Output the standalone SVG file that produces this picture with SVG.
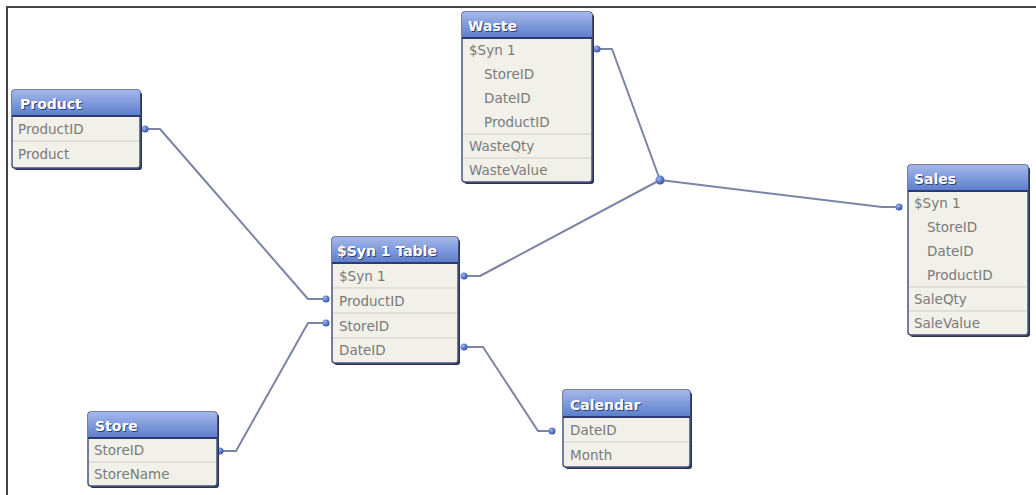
<svg xmlns="http://www.w3.org/2000/svg" width="1036" height="495" viewBox="0 0 1036 495">
<defs>
<linearGradient id="hdr" x1="0" y1="0" x2="0" y2="1">
<stop offset="0" stop-color="#a4b8ea"/>
<stop offset="1" stop-color="#5b7dcc"/>
</linearGradient>
<radialGradient id="dotg" cx="0.35" cy="0.35" r="0.7">
<stop offset="0" stop-color="#9fb4ef"/>
<stop offset="1" stop-color="#2f4fa8"/>
</radialGradient>
</defs>
<style>
.shadow{fill:#2b3150;}
.frame{fill:#f1f0e9;stroke:#4a5580;stroke-width:1.5;}
.head{fill:url(#hdr);}
.hline{stroke:#2d3a72;stroke-width:2;}
.sep{stroke:#cfcfc6;stroke-width:1;}
.ht{font-family:"DejaVu Sans",Verdana,sans-serif;font-size:14px;font-weight:bold;fill:#ffffff;}
.hs{font-family:"DejaVu Sans",Verdana,sans-serif;font-size:14px;font-weight:bold;fill:#30406e;}
.rt{font-family:"DejaVu Sans",Verdana,sans-serif;font-size:13.5px;fill:#7a7a7a;}
.conn{fill:none;stroke:#7c84a6;stroke-width:2;stroke-linejoin:round;}
.dot{fill:url(#dotg);}
.border{stroke:#444;stroke-width:2;}
</style>
<rect x="0" y="0" width="1036" height="495" fill="#ffffff"/>
<line class="border" x1="6" y1="7" x2="1036" y2="7"/>
<line class="border" x1="7" y1="6" x2="7" y2="495"/>

<g id="connectors">
<polyline class="conn" points="145,129 160,129 308,299 326,299"/>
<polyline class="conn" points="220,451 236,451 308,323 326,323"/>
<polyline class="conn" points="464,276 480,276 660,180"/>
<polyline class="conn" points="597,49 612,49 660,180"/>
<polyline class="conn" points="660,180 882,207 899,207"/>
<polyline class="conn" points="464,347 483,347 538,431 552,431"/>
<circle class="dot" cx="145" cy="129" r="3.5"/>
<circle class="dot" cx="326" cy="299" r="3.5"/>
<circle class="dot" cx="220" cy="451" r="3.5"/>
<circle class="dot" cx="326" cy="323" r="3.5"/>
<circle class="dot" cx="464" cy="276" r="3.5"/>
<circle class="dot" cx="597" cy="49" r="3.5"/>
<circle class="dot" cx="660" cy="180" r="4.5"/>
<circle class="dot" cx="899" cy="207" r="3.5"/>
<circle class="dot" cx="464" cy="347" r="3.5"/>
<circle class="dot" cx="552" cy="431" r="3.5"/>
</g>

<g id="product">
<rect class="shadow" x="14" y="92" width="128" height="78" rx="3"/>
<rect class="frame" x="12" y="90" width="128" height="78" rx="3"/>
<path class="head" d="M15,90 H137 Q140,90 140,93 V116 H12 V93 Q12,90 15,90 Z"/>
<line class="hline" x1="12" y1="116" x2="140" y2="116"/>
<line class="sep" x1="13" y1="141" x2="139" y2="141"/>
<text class="hs" x="21" y="110">Product</text>
<text class="ht" x="20" y="109">Product</text>
<text class="rt" x="18" y="134">ProductID</text>
<text class="rt" x="18" y="159">Product</text>
</g>

<g id="syntable">
<rect class="shadow" x="334" y="239" width="126" height="126" rx="3"/>
<rect class="frame" x="332" y="237" width="126" height="126" rx="3"/>
<path class="head" d="M335,237 H455 Q458,237 458,240 V263 H332 V240 Q332,237 335,237 Z"/>
<line class="hline" x1="332" y1="263" x2="458" y2="263"/>
<line class="sep" x1="333" y1="288" x2="457" y2="288"/>
<line class="sep" x1="333" y1="313" x2="457" y2="313"/>
<line class="sep" x1="333" y1="338" x2="457" y2="338"/>
<text class="hs" x="338" y="257">$Syn 1 Table</text>
<text class="ht" x="337" y="256">$Syn 1 Table</text>
<text class="rt" x="339" y="281">$Syn 1</text>
<text class="rt" x="339" y="306">ProductID</text>
<text class="rt" x="339" y="331">StoreID</text>
<text class="rt" x="339" y="355">DateID</text>
</g>

<g id="waste">
<rect class="shadow" x="464" y="14" width="130" height="170" rx="3"/>
<rect class="frame" x="462" y="12" width="130" height="170" rx="3"/>
<path class="head" d="M465,12 H589 Q592,12 592,15 V38 H462 V15 Q462,12 465,12 Z"/>
<line class="hline" x1="462" y1="38" x2="592" y2="38"/>
<line class="sep" x1="463" y1="134" x2="591" y2="134"/>
<line class="sep" x1="463" y1="158" x2="591" y2="158"/>
<text class="hs" x="469" y="32">Waste</text>
<text class="ht" x="468" y="31">Waste</text>
<text class="rt" x="469" y="55">$Syn 1</text>
<text class="rt" x="484" y="79">StoreID</text>
<text class="rt" x="484" y="103">DateID</text>
<text class="rt" x="484" y="127">ProductID</text>
<text class="rt" x="469" y="151">WasteQty</text>
<text class="rt" x="469" y="175">WasteValue</text>
</g>

<g id="sales">
<rect class="shadow" x="910" y="167" width="120" height="170" rx="3"/>
<rect class="frame" x="908" y="165" width="120" height="170" rx="3"/>
<path class="head" d="M911,165 H1025 Q1028,165 1028,168 V191 H908 V168 Q908,165 911,165 Z"/>
<line class="hline" x1="908" y1="191" x2="1028" y2="191"/>
<line class="sep" x1="909" y1="287" x2="1027" y2="287"/>
<line class="sep" x1="909" y1="311" x2="1027" y2="311"/>
<text class="hs" x="915" y="185">Sales</text>
<text class="ht" x="914" y="184">Sales</text>
<text class="rt" x="914" y="208">$Syn 1</text>
<text class="rt" x="927" y="232">StoreID</text>
<text class="rt" x="927" y="256">DateID</text>
<text class="rt" x="927" y="280">ProductID</text>
<text class="rt" x="914" y="304">SaleQty</text>
<text class="rt" x="914" y="328">SaleValue</text>
</g>

<g id="store">
<rect class="shadow" x="90" y="414" width="129" height="74" rx="3"/>
<rect class="frame" x="88" y="412" width="129" height="74" rx="3"/>
<path class="head" d="M91,412 H214 Q217,412 217,415 V438 H88 V415 Q88,412 91,412 Z"/>
<line class="hline" x1="88" y1="438" x2="217" y2="438"/>
<line class="sep" x1="89" y1="462" x2="216" y2="462"/>
<text class="hs" x="96" y="432">Store</text>
<text class="ht" x="95" y="431">Store</text>
<text class="rt" x="94" y="455">StoreID</text>
<text class="rt" x="94" y="479">StoreName</text>
</g>

<g id="calendar">
<rect class="shadow" x="565" y="392" width="127" height="77" rx="3"/>
<rect class="frame" x="563" y="390" width="127" height="77" rx="3"/>
<path class="head" d="M566,390 H687 Q690,390 690,393 V417 H563 V393 Q563,390 566,390 Z"/>
<line class="hline" x1="563" y1="417" x2="690" y2="417"/>
<line class="sep" x1="564" y1="442" x2="689" y2="442"/>
<text class="hs" x="571" y="411">Calendar</text>
<text class="ht" x="570" y="410">Calendar</text>
<text class="rt" x="570" y="435">DateID</text>
<text class="rt" x="570" y="460">Month</text>
</g>
</svg>
